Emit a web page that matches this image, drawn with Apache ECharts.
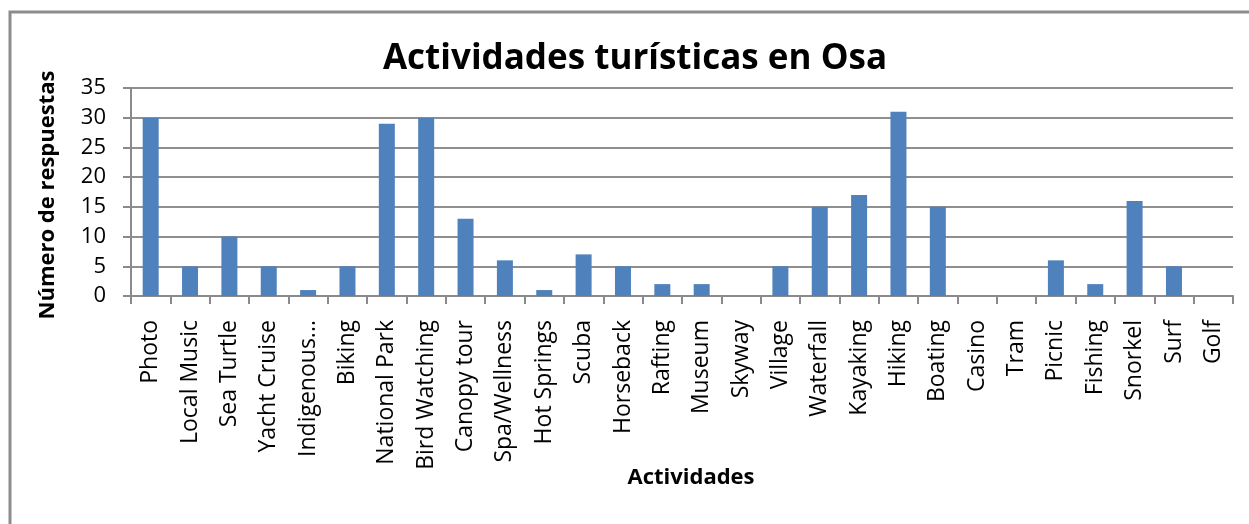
<!DOCTYPE html>
<html>
<head>
<meta charset="utf-8">
<script src="https://cdn.jsdelivr.net/npm/echarts@6/dist/echarts.min.js"></script>
<style>
html,body{margin:0;padding:0;background:#fff;}
#chart{width:1249px;height:524px;}
</style>
</head>
<body>
<div id="chart"></div>
<script>
const categories = ["Photo","Local Music","Sea Turtle","Yacht Cruise","Indigenous...","Biking","National Park","Bird Watching","Canopy tour","Spa/Wellness","Hot Springs","Scuba","Horseback","Rafting","Museum","Skyway","Village","Waterfall","Kayaking","Hiking","Boating","Casino","Tram","Picnic","Fishing","Snorkel","Surf","Golf"];
const values = [30,5,10,5,1,5,29,30,13,6,1,7,5,2,2,0,5,15,17,31,15,0,0,6,2,16,5,0];
const yTicks = [0,5,10,15,20,25,30,35];
const titleText = "Actividades turísticas en Osa";
const yTitle = "Número de respuestas";
const xTitle = "Actividades";

const FONT = "'Open Sans', sans-serif";
const chart = echarts.init(document.getElementById('chart'), null, {renderer:'canvas'});
chart.setOption({
  animation:false,
  backgroundColor:'#ffffff',
  title:{
    text:titleText,
    left:630, top:37, textAlign:'center',
    textStyle:{fontFamily:FONT,fontWeight:'bold',fontSize:35,color:'#000'}
  },
  grid:{left:131,right:16,top:88,bottom:228,containLabel:false},
  xAxis:{
    type:'category',
    data:categories,
    boundaryGap:true,
    axisLine:{show:true,lineStyle:{color:'#8a8a8a',width:2}},
    axisTick:{show:true,length:8,alignWithLabel:false,lineStyle:{color:'#8a8a8a',width:2}},
    axisLabel:{interval:0,rotate:90,margin:24,fontFamily:FONT,fontSize:23,color:'#000'}
  },
  yAxis:{
    type:'value',
    min:yTicks[0], max:yTicks[yTicks.length-1], interval:5,
    axisLine:{show:true,lineStyle:{color:'#8a8a8a',width:2}},
    axisTick:{show:true,length:8,lineStyle:{color:'#8a8a8a',width:2}},
    splitLine:{show:true,lineStyle:{color:'#8f8f8f',width:2}},
    axisLabel:{margin:25,fontFamily:FONT,fontSize:22,color:'#000'}
  },
  series:[{
    type:'bar',
    data:values,
    barWidth:16,
    itemStyle:{color:'#4F81BD'}
  }],
  graphic:[
    {type:'rect',shape:{x:10,y:12,width:1300,height:600},style:{fill:null,stroke:'#8c8c8c',lineWidth:3},silent:true},
    {type:'text',x:48,y:195,rotation:Math.PI/2,style:{text:yTitle,fontFamily:FONT,fontWeight:'bold',fontSize:22,fill:'#000',textAlign:'center',textVerticalAlign:'middle'}},
    {type:'text',x:691,y:478,style:{text:xTitle,fontFamily:FONT,fontWeight:'bold',fontSize:22,fill:'#000',textAlign:'center',textVerticalAlign:'middle'}}
  ]
});
</script>
</body>
</html>
